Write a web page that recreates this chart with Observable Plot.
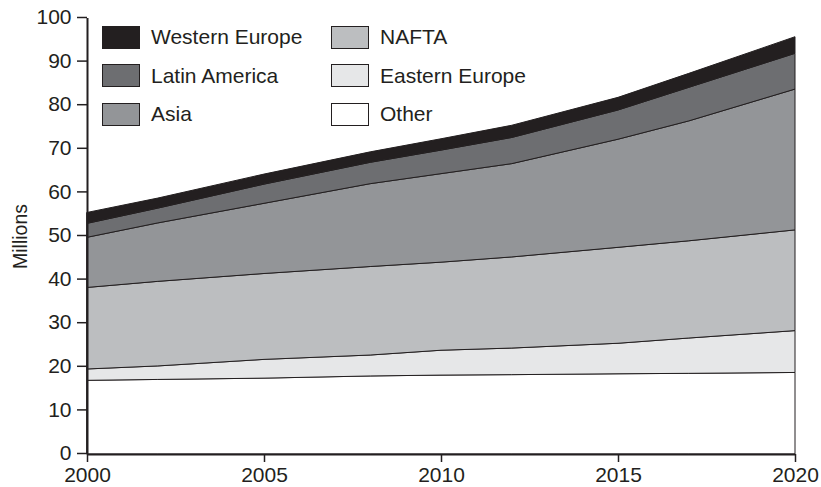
<!DOCTYPE html>
<html>
<head>
<meta charset="utf-8">
<script src="https://cdn.jsdelivr.net/npm/d3@7"></script>
<script src="https://cdn.jsdelivr.net/npm/@observablehq/plot@0.6"></script>
<style>
  html, body { margin: 0; padding: 0; background: #fff; }
  #wrap { position: relative; width: 821px; height: 487px; font-family: 'Liberation Sans', Arial, sans-serif; color: #231f20; }
  .leg { position: absolute; display: flex; align-items: center; font-size: 21px; white-space: nowrap; }
  .sw { width: 36px; height: 21px; border: 1.5px solid #231f20; margin-right: 11px; box-sizing: content-box; }
</style>
</head>
<body>
<div id="wrap"></div>
<script>
// Data (millions), stacked bottom to top
const years = [2000, 2002, 2005, 2008, 2010, 2012, 2015, 2017, 2020];
const other          = [16.9, 17.1, 17.4, 17.9, 18.1, 18.2, 18.4, 18.5, 18.7];
const easternEurope  = [2.6, 3.1, 4.3, 4.8, 5.7, 6.1, 7.0, 8.1, 9.6];
const nafta          = [18.7, 19.4, 19.7, 20.3, 20.2, 20.9, 22.0, 22.3, 23.1];
const asia           = [11.5, 13.4, 16.1, 19.0, 20.3, 21.4, 24.8, 27.5, 32.3];
const latinAmerica   = [3.2, 3.4, 4.4, 4.9, 5.4, 6.0, 6.7, 7.7, 8.2];
const westernEurope  = [2.5, 2.3, 2.3, 2.4, 2.6, 2.8, 2.9, 3.2, 3.8];

const regions = ["Other", "Eastern Europe", "NAFTA", "Asia", "Latin America", "Western Europe"];
const regionValues = [other, easternEurope, nafta, asia, latinAmerica, westernEurope];
const regionColors = ["#ffffff", "#e6e7e8", "#bcbec0", "#939598", "#6d6e71", "#231f20"];
const xTicks = [2000, 2005, 2010, 2015, 2020];
const yTicks = [0, 10, 20, 30, 40, 50, 60, 70, 80, 90, 100];
const legendOrder = ["Western Europe", "Latin America", "Asia", "NAFTA", "Eastern Europe", "Other"];

const table = [];
regions.forEach((r, i) => years.forEach((y, j) => table.push({year: y, value: regionValues[i][j], region: r})));

const ink = "#231f20";
const chart = Plot.plot({
  width: 821,
  height: 487,
  marginLeft: 87,
  marginRight: 26,
  marginTop: 18,
  marginBottom: 33,
  style: {fontFamily: "'Liberation Sans', Arial, sans-serif", fontSize: "21px", color: ink, background: "#fff"},
  x: {type: "linear", domain: [2000, 2020]},
  y: {domain: [0, 100]},
  color: {domain: regions, range: regionColors},
  marks: [
    Plot.areaY(table, {x: "year", y: "value", z: "region", fill: "region", order: regions,
      stroke: ink, strokeWidth: 1, strokeLinejoin: "round"}),
    Plot.ruleX([2000], {stroke: ink, strokeWidth: 2}),
    Plot.ruleY([0], {stroke: ink, strokeWidth: 2}),
    Plot.axisY({ticks: yTicks, tickSize: 10, tickPadding: 6, label: null, fontSize: 21, dy: -1, stroke: ink, strokeWidth: 1.5}),
    Plot.axisX({ticks: xTicks, tickFormat: d => String(d), tickSize: 8, tickPadding: 5, label: null, fontSize: 21, stroke: ink, strokeWidth: 1.5}),
    Plot.text(["Millions"], {frameAnchor: "left", text: d => d, rotate: -90, dx: -67, textAnchor: "middle", fontSize: 19.5, fill: ink})
  ]
});

const wrap = document.getElementById("wrap");
wrap.appendChild(chart);

// Legend overlay
const colorOf = Object.fromEntries(regions.map((r, i) => [r, regionColors[i]]));
legendOrder.forEach((name, k) => {
  const col = Math.floor(k / 3), row = k % 3;
  const el = document.createElement("div");
  el.className = "leg";
  el.style.left = (col === 0 ? 102 : 331) + "px";
  el.style.top = (25 + row * 38.5) + "px";
  el.style.height = "24px";
  const sw = document.createElement("div");
  sw.className = "sw";
  sw.style.background = colorOf[name];
  const t = document.createElement("span");
  t.textContent = name;
  el.appendChild(sw);
  el.appendChild(t);
  wrap.appendChild(el);
});
</script>
</body>
</html>
